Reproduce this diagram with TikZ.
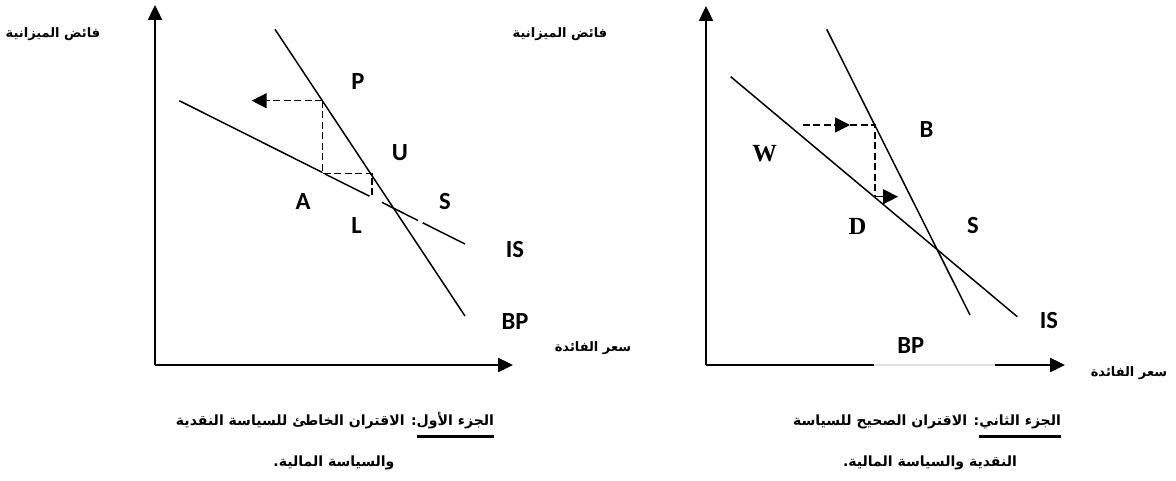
\documentclass[tikz,border=0pt]{standalone}
\usepackage{fontspec}
\setsansfont{Carlito}
\newfontfamily\arabicfont[Script=Arabic]{DejaVu Sans}
\newfontfamily\serifbold{Liberation Serif}
\TeXXeTstate=1
\usetikzlibrary{arrows.meta}
\newcommand\ulword[1]{\vtop{\hbox{\beginR#1\endR}\kern4pt\hrule height 1.2pt}}

\begin{document}
\begin{tikzpicture}[
    x=0.02cm, y=-0.02cm,
    axis/.style={line width=1.1pt,-{Triangle[length=8.5pt,width=8pt]}},
    curve/.style={line width=0.85pt},
    guide/.style={line width=0.85pt,dash pattern=on 4pt off 2pt},
    tip/.style={-{Triangle[length=8.5pt,width=8.5pt]}},
    lab/.style={font=\sffamily\bfseries\fontsize{14}{16}\selectfont},
    serlab/.style={font=\serifbold\bfseries\fontsize{14}{16}\selectfont},
    artext/.style={font=\arabicfont\bfseries\fontsize{7.4}{9}\selectfont},
    captext/.style={font=\arabicfont\bfseries\fontsize{8}{10}\selectfont},
  ]
  \useasboundingbox (0,0) rectangle (1176,480);

  % first panel: the wrong pairing
  \draw[axis] (155,365) -- (155,5);
  \draw[axis] (155,365) -- (513,365);
  \draw[curve] (275,29.3) -- (465,316);
  \draw[curve] (179.3,100.7) -- (322.5,172.5);
  \draw[curve] (325,174) -- (369.5,196.2);
  \draw[curve] (382,202.4) -- (418,220.5);
  \draw[curve] (422.7,222.8) -- (465,244);
  \draw[guide,tip] (322.5,100.7) -- (251.7,100.7);
  \draw[guide] (322.5,100.7) -- (322.5,173.5) -- (372,173.5) -- (372,196.5);

  \node[lab] (pP) at (357.8,82) {P};
  \node[lab] (pU) at (400,153) {U};
  \node[lab] (pA) at (303,202) {A};
  \node[lab] (pL) at (356.5,226) {L};
  \node[lab] (pS) at (445,202) {S};
  \node[lab] (pIS) at (515,250) {IS};
  \node[lab] (pBP) at (515,322) {BP};

  % second panel: the right pairing
  \draw[axis] (706,365) -- (706,6);
  \draw[line width=1.1pt] (706,365) -- (874,365);
  \draw[line width=1.1pt,black!12] (874,365) -- (995,365);
  \draw[axis] (995,365) -- (1065,365);
  \draw[curve] (826.7,29.3) -- (970,315);
  \draw[curve] (730.7,76.7) -- (1017.3,316.7);
  \draw[guide,tip] (802.7,125) -- (850,125);
  \draw[guide] (850,125) -- (875,125) -- (875,195);
  \draw[curve,tip] (875,196.7) -- (898,196.7);

  \node[lab] (qB) at (926.5,130) {B};
  \node[serlab] (qW) at (764.7,154) {W};
  \node[serlab] (qD) at (857.4,226) {D};
  \node[lab] (qS) at (973,226) {S};
  \node[lab] (qIS) at (1049,321) {IS};
  \node[lab] (qBP) at (910.7,346) {BP};

  % axis titles and captions
  \node[artext] (yA) at (53,34) {\beginR فائض الميزانية\endR};
  \node[artext] (yB) at (560,34) {\beginR فائض الميزانية\endR};
  \node[artext] (xA) at (593,348) {\beginR سعر الفائدة\endR};
  \node[artext] (xB) at (1129,373) {\beginR سعر  الفائدة\endR};

  \node[captext,anchor=base] (capA1) at (335,425) {\beginR\ulword{الجزء الأول}: الاقتران الخاطئ للسياسة النقدية\endR};
  \node[captext,anchor=base] (capA2) at (334,466) {\beginR والسياسة المالية.\endR};
  \node[captext,anchor=base] (capB1) at (927,425) {\beginR\ulword{الجزء الثاني}: الاقتران الصحيح للسياسة\endR};
  \node[captext,anchor=base] (capB2) at (930,466) {\beginR النقدية والسياسة المالية.\endR};
\end{tikzpicture}
\end{document}
